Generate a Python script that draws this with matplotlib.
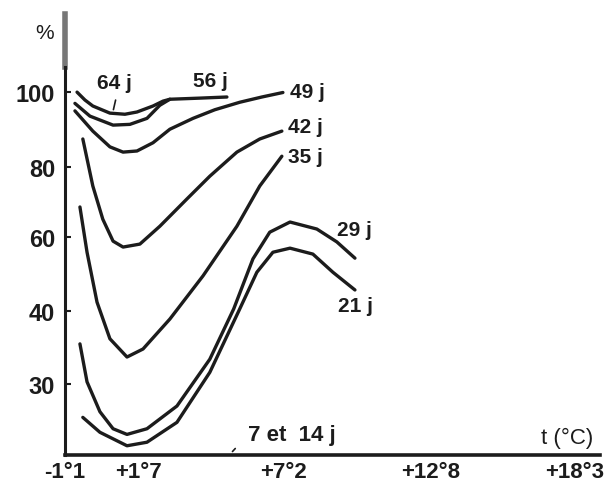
import numpy as np
import matplotlib
matplotlib.use("Agg")
import matplotlib.pyplot as plt

# temperature (deg C) / germination (%), one curve per duration
t_64 = [-0.64, -0.34, -0.04, 0.61, 1.18, 1.64, 2.25, 2.63, 2.89]
p_64 = [100.0, 97.9, 96.3, 94.4, 94.1, 94.7, 96.3, 97.6, 98.1]

t_56 = [-0.72, -0.15, 0.73, 1.37, 2.02, 2.51, 2.89, 4.03, 5.06]
p_56 = [97.0, 93.6, 91.2, 91.4, 93.0, 96.5, 98.1, 98.4, 98.7]

t_49 = [-0.72, -0.04, 0.61, 1.11, 1.64, 2.25, 2.89, 3.77, 4.60, 5.55, 6.39, 7.19]
p_49 = [95.0, 89.6, 85.4, 84.0, 84.3, 86.5, 90.1, 93.0, 95.3, 97.3, 98.7, 99.9]

t_42 = [-0.42, -0.04, 0.34, 0.73, 1.11, 1.75, 2.51, 3.54, 4.41, 5.44, 6.31, 7.15]
p_42 = [87.5, 74.6, 65.1, 58.9, 57.3, 58.1, 63.1, 70.9, 77.4, 84.0, 87.5, 89.6]

t_35 = [-0.53, -0.26, 0.12, 0.61, 1.26, 1.87, 2.89, 4.15, 5.44, 6.31, 7.15]
p_35 = [68.6, 55.9, 42.4, 36.2, 33.7, 34.8, 38.9, 49.5, 63.1, 74.6, 82.9]

t_29 = [-0.53, -0.26, 0.23, 0.73, 1.26, 2.02, 3.16, 4.41, 5.32, 6.05, 6.69, 7.46, 8.48, 9.24, 9.93]
p_29 = [35.5, 30.3, 26.1, 23.7, 22.9, 23.7, 26.9, 33.4, 40.6, 54.1, 61.4, 64.3, 62.3, 58.7, 54.3]

t_21 = [-0.42, 0.23, 1.26, 2.02, 3.16, 4.41, 5.55, 6.20, 6.81, 7.46, 8.33, 9.09, 9.93]
p_21 = [25.3, 23.2, 21.3, 21.8, 24.6, 31.6, 40.6, 50.5, 55.9, 57.0, 55.4, 50.5, 45.7]

curves = [
    (t_64, p_64), (t_56, p_56), (t_49, p_49), (t_42, p_42),
    (t_35, p_35), (t_29, p_29), (t_21, p_21),
]

# label text and where it sits (deg C, %)
labels = ["64 j", "56 j", "49 j", "42 j", "35 j", "29 j", "21 j"]
label_t = [0.12, 3.77, 7.46, 7.38, 7.38, 9.24, 9.28]
label_p = [102.6, 103.2, 100.3, 90.9, 82.7, 62.3, 41.4]

xticks = [-1.1, 1.7, 7.2, 12.8, 18.3]
xlabels = ["-1°1", "+1°7", "+7°2", "+12°8", "+18°3"]
yticks = [30, 40, 60, 80, 100]

# the printed y axis is not evenly spaced, rebuild it as a piecewise scale
scale_vals = [0, 20, 30, 40, 60, 80, 100, 130]
scale_pos = [-142, 0, 71, 144, 218, 288, 363, 475.5]


def fwd(v):
    return np.interp(v, scale_vals, scale_pos)


def inv(p):
    return np.interp(p, scale_pos, scale_vals)


plt.rcParams['font.family'] = ['Liberation Sans', 'DejaVu Sans']
ink = "#1c1c1c"

fig = plt.figure(figsize=(6.07, 4.89), dpi=100)
ax = fig.add_axes([0.107, 0.0675, 0.881, 0.9015])
ax.set_yscale("function", functions=(fwd, inv))
ax.set_xlim(-1.1, 19.24)
ax.set_ylim(20, 120.8)

for t, p in curves:
    ax.plot(t, p, color=ink, lw=2.4, solid_capstyle="round", solid_joinstyle="round")

for name, t, p in zip(labels, label_t, label_p):
    ax.text(t, p, name, fontsize=15, fontweight="bold", color=ink, ha="left", va="center")

# little pointer from "64 j" to its curve
ax.annotate("", xy=(0.72, 94.6), xytext=(0.85, 98.6),
            arrowprops=dict(arrowstyle="-", color=ink, lw=1.2))

# 7 and 14 days stay at the bottom
ax.text(5.86, 22.9, "7 et  14 j", fontsize=16, fontweight="bold", color=ink, ha="left", va="center")
ax.annotate("", xy=(5.2, 20.2), xytext=(5.45, 21.2),
            arrowprops=dict(arrowstyle="-", color=ink, lw=1.2))
ax.text(17.0, 22.5, "t (°C)", fontsize=16, color=ink, ha="left", va="center")
ax.text(-1.86, 115.8, "%", fontsize=15, color=ink, ha="center", va="center")

ax.set_xticks(xticks)
ax.set_xticklabels(xlabels)
ax.set_yticks(yticks)
ax.set_yticklabels([str(v) for v in yticks])
ax.tick_params(axis="x", length=0, pad=4, labelsize=16, colors=ink)
ax.tick_params(axis="y", direction="in", length=4, width=1.5, pad=7, labelsize=17, colors=ink)
for lab in ax.get_xticklabels() + ax.get_yticklabels():
    lab.set_fontweight("bold")

for s in ["top", "right"]:
    ax.spines[s].set_visible(False)
ax.spines["left"].set_linewidth(2.2)
ax.spines["left"].set_color(ink)
ax.spines["left"].set_bounds(20, 106.7)
ax.plot([-1.1, -1.1], [106.7, 120.8], color="#777777", lw=4, clip_on=False)
ax.spines["bottom"].set_linewidth(2.6)
ax.spines["bottom"].set_color(ink)

fig.savefig("out.png", dpi=100)
